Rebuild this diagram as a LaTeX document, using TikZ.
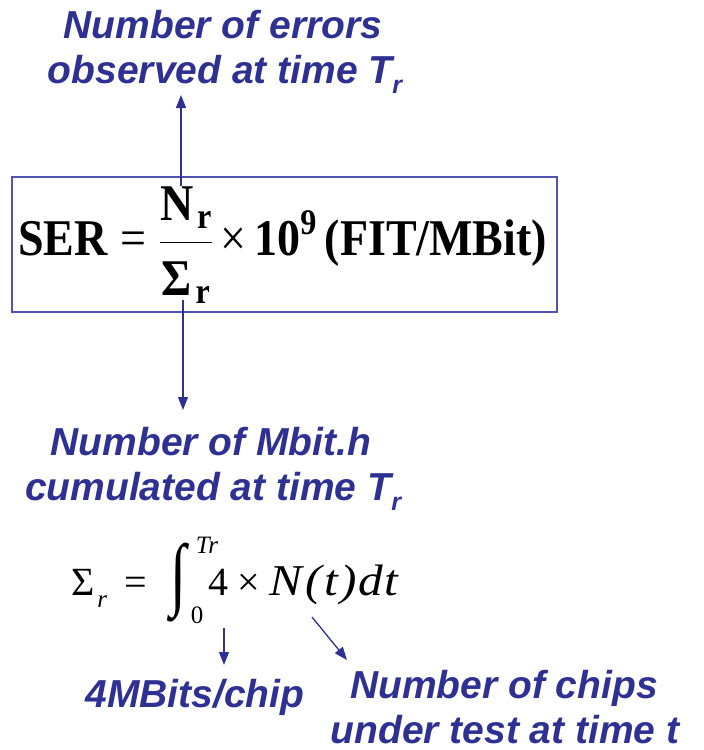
\RequirePackage{fix-cm}
\documentclass[tikz,border=0pt]{standalone}
\usepackage{graphicx}
\usepackage{exscale}
\usepackage{fontspec}
\setmainfont{Liberation Serif}
\newfontfamily\labelfont{Liberation Sans}
\usetikzlibrary{arrows.meta}
\definecolor{noteblue}{RGB}{46,49,146}
\definecolor{framblue}{RGB}{80,82,180}
\newcommand{\subr}{\raisebox{-0.28em}{\fontsize{25}{25}\selectfont r}}
\newcommand{\limfont}{\fontsize{25}{25}\selectfont}
\tikzset{
  note/.style={font=\labelfont\bfseries\itshape\fontsize{39}{44}\selectfont, text=noteblue, inner sep=0pt, anchor=base},
  pointer/.style={draw=noteblue, line width=1.3pt, -{Triangle[length=13pt,width=10pt]}}
}
\begin{document}
\begin{tikzpicture}[x=1pt, y=-1pt]
  \useasboundingbox (0,0) rectangle (704,750);
  % labels above the box
  \node[note] (err1) at (223,38) {Number of errors};
  \node[note] (err2) at (225,83) {observed at time T\subr};
  % the rate formula
  \node[draw=framblue, line width=1.3pt, minimum width=545pt, minimum height=135pt, inner sep=0pt]
    (ser) at (284.5,244.5) {};
  \node[inner sep=0pt, anchor=west] (serform) at (18,245)
    {\scalebox{1}[1.12]{\fontsize{46}{50}\selectfont\bfseries
     $\displaystyle\mathbf{SER}\mathrel{\mbox{\mdseries =}}
     \frac{\mathbf{N}_{\mkern2mu\mathbf{r}}}{\rule{0pt}{0.95em}\mbox{Σ}_{\mkern2mu\mathbf{r}}}
     \mbox{\mdseries\,×\,}\mathbf{10}^{\mathbf{9}}\,\mbox{(FIT/MBit)}$}};
  \coordinate (upstart) at (181,186);
  \coordinate (downstart) at (183,300);
  \draw[pointer] (upstart) -- (upstart |- 0,95);
  % labels below the box
  \node[note] (mbit1) at (211,455) {Number of Mbit.h};
  \node[note] (mbit2) at (213,500) {cumulated at time T\subr};
  \draw[pointer] (downstart) -- (downstart |- 0,410);
  % the cumulated Mbit.h
  \node[anchor=base west, inner sep=0pt, font=\fontsize{40}{44}\selectfont] (sigma) at (71,595)
    {Σ\hspace{3pt}\raisebox{-0.3em}{\limfont\itshape r}\hspace{17pt}=\hspace{24pt}%
     \raisebox{-27pt}{\resizebox*{16pt}{79pt}{\raisebox{\depth}{∫}}}%
     \makebox[0pt][l]{\hspace{9pt}\raisebox{42pt}{\limfont\itshape Tr}}%
     \makebox[0pt][l]{\hspace{4pt}\raisebox{-28pt}{\limfont 0}}%
     \hspace{22pt}4\hspace{9pt}×\hspace{9pt}%
     \scalebox{1.12}[1]{\fontsize{44}{44}\selectfont\itshape N\hspace{3pt}(\hspace{2pt}t\hspace{2pt})\hspace{2pt}d\hspace{1pt}t}};
  \coordinate (fourfoot) at (224,628);
  \coordinate (nfoot) at (312,617);
  \node[note] (chip) at (195,707) {4MBits/chip};
  \node[note] (chips1) at (504,698) {Number of chips};
  \node[note] (chips2) at (505,743) {under test at time t};
  \draw[pointer] (fourfoot) -- (fourfoot |- 0,665);
  \draw[pointer] (nfoot) -- (347,660);
\end{tikzpicture}
\end{document}
